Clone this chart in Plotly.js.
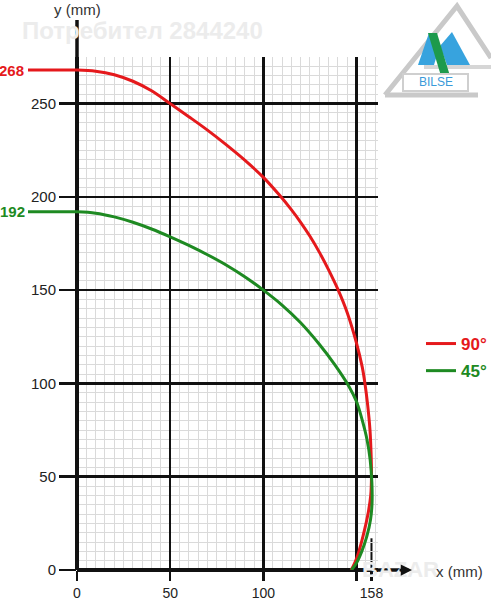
<!DOCTYPE html>
<html>
<head>
<meta charset="utf-8">
<script src="https://cdn.plot.ly/plotly-3.0.1.min.js"></script>
<style>html,body{margin:0;padding:0;background:#fff;}#chart{width:491px;height:600px;}</style>
</head>
<body>
<div id="chart"></div>
<script>
// ---- data ----
var red90X = [0, 10, 20, 30, 40, 50, 60, 70, 80, 90, 100, 108.6, 115, 120, 125, 130, 135, 140, 145, 150, 153, 154.5, 156, 157.2, 157.8, 158, 157.6, 156.3, 154.4, 152.4, 150.3, 148.2, 147];
var red90Y = [268, 267.4, 265.5, 262, 256.9, 250, 243, 235.8, 228, 219.7, 210.5, 201, 193.2, 186.4, 178.9, 170.4, 160.9, 150.4, 137.9, 121.5, 109, 100, 88, 75, 62, 50, 40, 31, 22, 14, 7, 2, 0];
var green45X = [0, 10, 20, 30, 40, 50, 60, 70, 80, 90, 100, 110, 120, 130, 138, 146, 150, 153, 155.6, 157.3, 158.2, 158.3, 157.5, 155.5, 152.8, 149.8, 147.2];
var green45Y = [192, 191.3, 189.3, 186.4, 182.8, 178.6, 174, 169, 163.5, 157.2, 150, 142, 132.5, 121, 110.5, 98.3, 90.2, 80.5, 70, 59, 47, 36, 27, 18, 10, 3.5, 0];
var seriesNames = ['90°', '45°'];
var startLabels = ['268', '192'];
var startValues = [268, 192];
var xMajorTicks = [0, 50, 100, 150];
var xMajorText = ['0', '50', '100', ''];
var xExtraTick = [158];
var xExtraText = ['158'];
var yMajorTicks = [0, 50, 100, 150, 200, 250];
var yMajorText = ['0', '50', '100', '150', '200', '250'];

var RED = '#e5191c', GREEN = '#1e8a22', INK = '#111';
var FONT = 'Liberation Sans, Arial, sans-serif';

// pixel -> paper helpers for decorations
var L = 77, T = 57, W = 301, H = 513;
function PX(px) { return (px - L) / W; }
function PY(py) { return (T + H - py) / H; }
function path(pts) {
  return 'M' + pts.map(function (p) { return PX(p[0]).toFixed(4) + ',' + PY(p[1]).toFixed(4); }).join(' L') + (pts.closed ? ' Z' : '');
}
function closed(pts) { pts.closed = true; return pts; }

var traces = [
  { x: red90X, y: red90Y, type: 'scatter', mode: 'lines', name: '<span style="color:' + RED + '"><b>' + seriesNames[0] + '</b></span>',
    line: { color: RED, width: 3, shape: 'spline', smoothing: 1 }, hoverinfo: 'skip', legendgroup: 'a' },
  { x: green45X, y: green45Y, type: 'scatter', mode: 'lines', name: '<span style="color:' + GREEN + '"><b>' + seriesNames[1] + '</b></span>',
    line: { color: GREEN, width: 3, shape: 'spline', smoothing: 1 }, hoverinfo: 'skip', legendgroup: 'b' },
  { x: xExtraTick, y: [0], xaxis: 'x2', yaxis: 'y', type: 'scatter', mode: 'none', showlegend: false, hoverinfo: 'skip' }
];

var minorGrid = { tickmode: 'linear', tick0: 0, dtick: 5, showgrid: true, gridcolor: '#dadada', gridwidth: 1, ticks: '' };

var shapes = [
  // y axis extension above grid
  { type: 'line', xref: 'paper', yref: 'paper', x0: 0, x1: 0, y0: 1, y1: PY(20), line: { color: INK, width: 3.5 } },
  // x axis extension right of grid
  { type: 'line', xref: 'paper', yref: 'paper', x0: 1, x1: PX(408), y0: 0, y1: 0, line: { color: INK, width: 3.5 } },
  // 158 marker stub
  { type: 'line', xref: 'x', yref: 'y', x0: xExtraTick[0], x1: xExtraTick[0], y0: 0, y1: 17, line: { color: INK, width: 2 }, layer: 'below' },
  // start value leaders
  { type: 'line', xref: 'paper', yref: 'y', x0: PX(28), x1: 0, y0: startValues[0], y1: startValues[0], line: { color: RED, width: 3 } },
  { type: 'line', xref: 'paper', yref: 'y', x0: PX(28), x1: 0, y0: startValues[1], y1: startValues[1], line: { color: GREEN, width: 3 } },
  // logo
  { type: 'path', xref: 'paper', yref: 'paper', path: path([[385, 95], [457, 6], [491, 58]]), line: { color: '#c9c9c9', width: 5 } },
  { type: 'path', xref: 'paper', yref: 'paper', path: path([[385, 95], [478, 95]]), line: { color: '#c9c9c9', width: 5 } },
  { type: 'path', xref: 'paper', yref: 'paper', path: path([[424, 67], [491, 67]]), line: { color: '#d6d6d6', width: 4 } },
  { type: 'path', xref: 'paper', yref: 'paper', path: path(closed([[418, 65], [429, 33], [438, 52], [434, 65]])), fillcolor: '#37a3de', line: { width: 0 } },
  { type: 'path', xref: 'paper', yref: 'paper', path: path(closed([[440, 46], [452, 32], [470, 65], [447, 65]])), fillcolor: '#37a3de', line: { width: 0 } },
  { type: 'path', xref: 'paper', yref: 'paper', path: path(closed([[428, 33], [437, 33], [450, 76], [441, 76]])), fillcolor: '#1d9a4c', line: { width: 0 } },
  { type: 'rect', xref: 'paper', yref: 'paper', x0: PX(403), x1: PX(468), y0: PY(91), y1: PY(74), fillcolor: '#ffffff', line: { color: '#cfcfcf', width: 2 } }
];

var annotations = [
  { xref: 'paper', yref: 'paper', x: PX(20), y: PY(31), xanchor: 'left', yanchor: 'middle', text: '<b>Потребител 2844240</b>', showarrow: false,
    font: { family: FONT, size: 24, color: '#ececec' } },
  { xref: 'paper', yref: 'paper', x: 0, y: PY(9), xanchor: 'center', yanchor: 'middle', text: 'y (mm)', showarrow: false,
    font: { family: FONT, size: 15, color: '#333' } },
  { xref: 'paper', yref: 'paper', x: PX(400), y: PY(569), xanchor: 'center', yanchor: 'middle', text: '<b>BAZAR</b>', showarrow: false,
    font: { family: FONT, size: 22, color: '#ececec' } },
  { xref: 'paper', yref: 'paper', x: PX(412), y: 0, ax: -14, ay: 0, text: '', showarrow: true, arrowhead: 2, arrowsize: 0.9, arrowwidth: 2.5, arrowcolor: INK },
  { xref: 'paper', yref: 'paper', x: PX(434), y: PY(571), xanchor: 'left', yanchor: 'middle', text: 'x (mm)', showarrow: false,
    font: { family: FONT, size: 15, color: '#333' } },
  { xref: 'paper', yref: 'y', x: PX(26), y: startValues[0], xanchor: 'right', yanchor: 'middle', text: '<b>' + startLabels[0] + '</b>', showarrow: false,
    font: { family: FONT, size: 15, color: RED } },
  { xref: 'paper', yref: 'y', x: PX(27), y: startValues[1], xanchor: 'right', yanchor: 'middle', text: '<b>' + startLabels[1] + '</b>', showarrow: false,
    font: { family: FONT, size: 15, color: GREEN } },
  { xref: 'paper', yref: 'paper', x: PX(435.5), y: PY(82.5), xanchor: 'center', yanchor: 'middle', text: 'BILSE', showarrow: false,
    font: { family: FONT, size: 12, color: '#3a9ad9' } }
];

var layout = {
  width: 491, height: 600,
  margin: { l: L, r: 491 - L - W, t: T, b: 600 - T - H, pad: 0, autoexpand: false },
  paper_bgcolor: '#ffffff', plot_bgcolor: '#ffffff',
  font: { family: FONT, color: '#222' },
  showlegend: true,
  legend: { x: PX(421), y: PY(326), xanchor: 'left', yanchor: 'top', bgcolor: 'rgba(0,0,0,0)', font: { family: FONT, size: 17 }, tracegroupgap: 2, itemclick: false },
  xaxis: {
    range: [0, 161.5], tickmode: 'array', tickvals: xMajorTicks, ticktext: xMajorText,
    ticks: 'outside', ticklen: 10, tickwidth: 2.5, tickcolor: INK,
    showgrid: true, gridcolor: INK, gridwidth: 2.5,
    zeroline: true, zerolinecolor: INK, zerolinewidth: 3.5, showline: false, automargin: false,
    minor: minorGrid, tickfont: { family: FONT, size: 14, color: '#222' }, fixedrange: true
  },
  xaxis2: {
    overlaying: 'x', anchor: 'y', side: 'bottom', range: [0, 161.5],
    tickmode: 'array', tickvals: xExtraTick, ticktext: xExtraText,
    ticks: 'outside', ticklen: 10, tickwidth: 2.5, tickcolor: INK,
    showgrid: false, zeroline: false, showline: false, automargin: false,
    tickfont: { family: FONT, size: 14, color: '#222' }, fixedrange: true
  },
  yaxis: {
    range: [0, 275], tickmode: 'array', tickvals: yMajorTicks, ticktext: yMajorText,
    ticks: 'outside', ticklen: 17, tickwidth: 2.5, tickcolor: INK,
    showgrid: true, gridcolor: INK, gridwidth: 2.5,
    zeroline: true, zerolinecolor: INK, zerolinewidth: 3.5, showline: false, automargin: false,
    minor: minorGrid, tickfont: { family: FONT, size: 15, color: '#222' }, fixedrange: true
  },
  shapes: shapes,
  annotations: annotations
};

Plotly.newPlot('chart', traces, layout, { displayModeBar: false, staticPlot: true });
</script>
</body>
</html>
